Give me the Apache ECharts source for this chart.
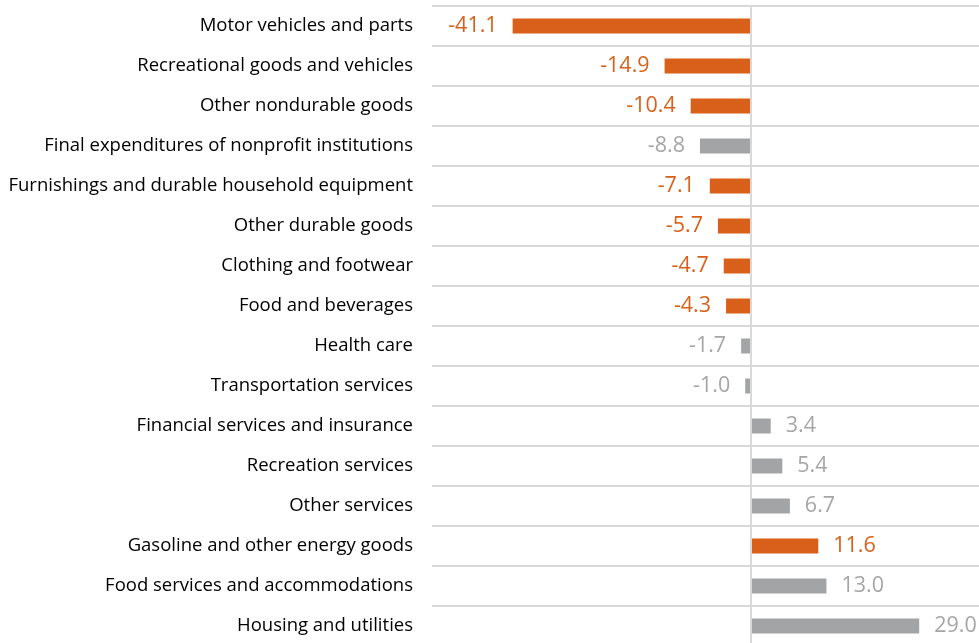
<!DOCTYPE html>
<html>
<head>
<meta charset="utf-8">
<script src="https://cdn.jsdelivr.net/npm/echarts@6/dist/echarts.min.js"></script>
<style>
  html, body { margin: 0; padding: 0; background: #fff; }
  #chart { width: 979px; height: 643px; }
</style>
</head>
<body>
<div id="chart"></div>
<script>
// categories top to bottom
const categories = [
  'Motor vehicles and parts',
  'Recreational goods and vehicles',
  'Other nondurable goods',
  'Final expenditures of nonprofit institutions',
  'Furnishings and durable household equipment',
  'Other durable goods',
  'Clothing and footwear',
  'Food and beverages',
  'Health care',
  'Transportation services',
  'Financial services and insurance',
  'Recreation services',
  'Other services',
  'Gasoline and other energy goods',
  'Food services and accommodations',
  'Housing and utilities'
]
const values = [-41.1, -14.9, -10.4, -8.8, -7.1, -5.7, -4.7, -4.3, -1.7, -1.0, 3.4, 5.4, 6.7, 11.6, 13.0, 29.0]
// 'goods' orange, 'services' gray
const groups = ['goods', 'goods', 'goods', 'services', 'goods', 'goods', 'goods', 'goods',
  'services', 'services', 'services', 'services', 'services', 'goods', 'services', 'services']

const colors = { goods: '#D9601A', services: '#A2A4A5' }
const labelColors = { goods: '#D9601A', services: '#A6A6A6' }

const chart = echarts.init(document.getElementById('chart'))

const barData = values.map((v, i) => ({
  value: v,
  itemStyle: { color: colors[groups[i]] },
  label: {
    position: v < 0 ? 'left' : 'right',
    color: labelColors[groups[i]]
  }
}))

chart.setOption({
  animation: false,
  grid: { left: 432, top: 6, width: 551, height: 640, containLabel: false, outerBoundsMode: 'none' },
  xAxis: {
    type: 'value',
    min: -55,
    max: 40,
    show: false,
    splitLine: { show: false }
  },
  yAxis: {
    type: 'category',
    inverse: true,
    data: categories,
    axisLine: { show: false },
    axisTick: { show: false },
    axisLabel: {
      margin: 19,
      color: '#000',
      fontFamily: 'Open Sans',
      fontSize: 18.5,
      padding: [4, 0, 0, 0]
    },
    splitLine: { show: true, lineStyle: { color: '#D9D9D9', width: 2 } }
  },
  series: [{
    type: 'bar',
    data: barData,
    barWidth: 15,
    label: {
      show: true,
      distance: 15,
      fontFamily: 'Open Sans',
      fontSize: 21.5,
      padding: [5, 0, 0, 0],
      formatter: p => p.value.toFixed(1)
    },
    markLine: {
      silent: true,
      symbol: 'none',
      label: { show: false },
      lineStyle: { color: '#D9D9D9', width: 2, type: 'solid' },
      data: [{ xAxis: 0 }]
    }
  }]
})
</script>
</body>
</html>
